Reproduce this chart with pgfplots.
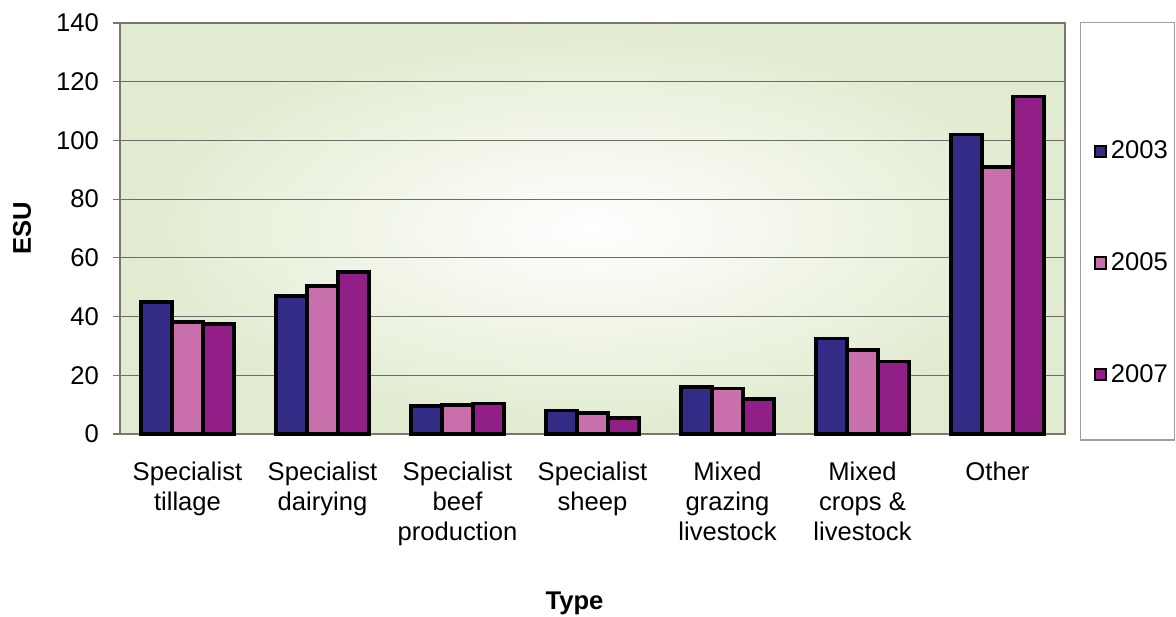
\documentclass[border=0pt]{standalone}
\usepackage{pgfplots}
\pgfplotsset{compat=1.18}
\usepackage{fontspec}
\setmainfont{Liberation Sans}
\definecolor{cA}{HTML}{332C87}
\definecolor{cB}{HTML}{C96FAB}
\definecolor{cC}{HTML}{911F87}
\definecolor{bgout}{HTML}{E1EBCF}
\definecolor{axgray}{HTML}{7A7670}
\begin{document}
\begin{tikzpicture}[font=\fontsize{12.8bp}{15bp}\selectfont]
\path[use as bounding box] (-60bp,-91.5bp) rectangle (528bp,217bp);
\begin{axis}[
  at={(0,0)}, anchor=south west,
  scale only axis, width=472.5bp, height=205.5bp,
  ybar=0pt, bar width=15.5bp,
  xmin=-0.5, xmax=6.5, ymin=0, ymax=140,
  ytick={0,20,...,140},
  xtick={0,...,6},
  xticklabels={Specialist\\tillage, Specialist\\dairying, Specialist\\beef\\production, Specialist\\sheep, Mixed\\grazing\\livestock, Mixed\\crops \&\\livestock, Other},
  x tick style={draw=none},
  extra x ticks={-0.5,0.5,1.5,2.5,3.5,4.5,5.5,6.5},
  extra x tick labels={},
  extra x tick style={major tick length=3.5bp, tick style={draw=axgray, line width=0.6bp}, grid=none},
  y tick style={draw=axgray, line width=0.6bp},
  major tick length=3.5bp,
  tick align=outside,
  xtick pos=bottom, ytick pos=left,
  /pgf/number format/assume math mode=true,
  xticklabel style={align=center, anchor=north, yshift=-7bp, font=\fontsize{12.8bp}{15bp}\selectfont},
  yticklabel style={xshift=-3.5bp, font=\fontsize{12.8bp}{15bp}\selectfont},
  ymajorgrids, grid style={draw=axgray!90!black, line width=0.5bp},
  axis line style={draw=axgray, line width=0.7bp},
  axis background/.style={shade, inner color=white, outer color=bgout},
  ylabel={\textbf{ESU}},
  ylabel style={at={(axis description cs:-0.1037,0.5)}, anchor=center, font=\fontsize{12.8bp}{14bp}\selectfont},
  xlabel={\textbf{Type}},
  xlabel style={at={(axis description cs:0.481,-0.411)}, anchor=center, font=\fontsize{12.8bp}{14bp}\selectfont},
  legend style={at={(axis description cs:1.030,0.416)}, anchor=west, draw=none, fill=none, row sep=41.5bp, inner xsep=0pt, font=\fontsize{12.8bp}{13bp}\selectfont},
  legend cell align=left,
  legend image code/.code={\draw[#1, draw=black, line width=1bp] (0bp,-2.8bp) rectangle (5.6bp,2.8bp);},
  clip=false,
]
\addplot[fill=cA, draw=black, line width=1.8bp] coordinates {(0,45) (1,47) (2,9.5) (3,8) (4,16) (5,32.5) (6,102)};
\addplot[fill=cB, draw=black, line width=1.8bp] coordinates {(0,38.2) (1,50.5) (2,9.9) (3,7.2) (4,15.5) (5,28.7) (6,91)};
\addplot[fill=cC, draw=black, line width=1.8bp] coordinates {(0,37.4) (1,55.2) (2,10.4) (3,5.5) (4,12) (5,24.7) (6,115)};
\legend{2003,2005,2007}
\draw[draw=axgray!70, line width=0.6bp] (axis description cs:1.016,1.002) rectangle (axis description cs:1.116,-0.0146);
\end{axis}
\end{tikzpicture}
\end{document}
